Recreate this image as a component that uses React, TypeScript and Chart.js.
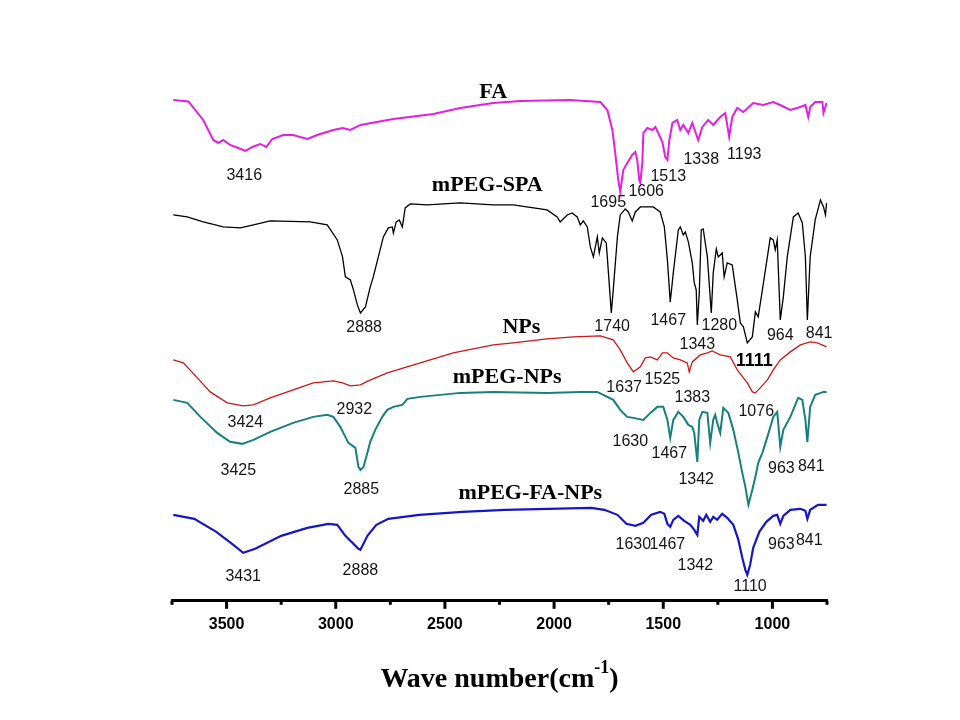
import React, { useEffect, useRef } from "react";
import { Chart, registerables } from "chart.js";

Chart.register(...registerables);

// ---------- data (wavenumber in cm-1, offset transmittance in arbitrary units) ----------
const FA_WN = [3744,3675,3607,3561,3538,3515,3484,3446,3414,3382,3346,3318,3291,3240,3195,3130,3085,3011,2969,2933,2887,2736,2553,2430,2279,2155,1926,1788,1756,1733,1720,1706,1697,1683,1665,1642,1628,1619,1610,1605,1596,1591,1573,1550,1536,1523,1504,1491,1481,1472,1458,1436,1422,1408,1385,1367,1340,1321,1294,1271,1239,1216,1198,1184,1161,1133,1088,1042,996,964,918,872,849,836,827,804,771,766,752];
const FA_T = [100.2,99.9,96.2,92.2,91.6,92.2,91.2,90.6,90.0,90.8,91.4,90.8,92.4,93.2,93.2,92.4,93.2,94.2,94.6,94.2,95.2,96.4,97.4,98.6,99.6,100,100.2,99.8,98.2,94.2,89.6,84.2,81.8,86.2,87.6,89.2,89.8,88.2,84.2,83.6,87.6,93.6,94.6,94.2,94.8,93.6,91.8,88.8,88.2,92.2,95.6,96.2,94.2,95.2,93.6,95.6,92.2,94.8,96.2,95.2,96.8,97.6,92.8,96.8,98.6,97.8,99.6,99.2,99.8,99.2,98.2,98.8,99.2,96.8,98.8,99.8,99.8,97.6,99.6];

const SPA_WN = [3744,3680,3607,3515,3437,3377,3300,3117,3039,2993,2969,2956,2933,2919,2901,2887,2864,2842,2828,2805,2782,2759,2741,2736,2723,2709,2695,2682,2659,2581,2430,2279,2187,2032,1986,1972,1940,1917,1894,1880,1866,1848,1834,1820,1802,1793,1779,1761,1751,1738,1729,1710,1697,1674,1660,1642,1628,1605,1546,1514,1495,1481,1468,1454,1431,1422,1408,1399,1385,1367,1358,1349,1344,1335,1326,1317,1298,1280,1271,1257,1248,1230,1221,1207,1184,1161,1147,1133,1115,1092,1078,1065,1046,1023,1010,996,987,978,964,950,932,904,882,863,849,840,827,804,780,766,757,752];
const SPA_T = [77.2,76.8,75.8,74.8,74.6,75.2,76.0,75.8,75.2,72.2,68.8,64.8,64.2,62.2,59.2,57.6,58.8,62.8,64.8,68.8,72.8,74.6,74.8,73.6,75.8,76.2,74.8,78.6,79.4,79.2,79.6,79.2,79.2,78.2,76.8,75.8,77.2,77.6,76.8,75.2,76.0,74.8,70.8,68.8,72.8,69.6,72.6,71.6,65.6,57.6,62.2,72.8,77.2,78.4,77.8,76.0,77.8,78.8,78.8,77.8,74.8,68.2,59.8,65.6,74.2,74.8,73.2,73.8,71.8,67.6,63.6,62.2,55.2,61.6,74.2,74.4,68.8,57.6,65.6,70.4,68.8,69.6,64.8,67.6,67.2,60.2,55.6,54.8,51.6,52.8,57.8,56.8,62.2,68.8,72.6,72.2,70.2,72.2,56.2,60.8,68.8,76.8,77.6,75.6,68.8,56.2,68.8,76.2,80.2,78.8,77.2,79.6];

const NP_WN = [3744,3698,3634,3575,3497,3424,3377,3300,3195,3103,3011,2969,2933,2887,2851,2764,2613,2462,2279,2187,2032,1912,1788,1729,1697,1665,1637,1605,1582,1559,1527,1504,1481,1454,1422,1390,1381,1367,1330,1298,1276,1239,1193,1161,1133,1115,1092,1078,1056,1023,996,964,918,872,827,794,752];
const NP_T = [48.2,47.6,44.6,41.8,39.6,39.0,39.2,40.6,42.2,43.6,44.0,43.6,43.0,43.2,44.0,45.6,47.6,49.6,51.2,51.6,52.4,52.8,53.0,52.2,50.2,47.6,45.8,46.8,48.6,48.8,48.2,49.6,49.6,48.6,48.2,47.6,45.8,47.8,49.2,49.6,50.0,49.2,48.8,46.2,44.6,43.6,41.8,41.6,42.6,44.2,46.2,48.2,49.8,51.2,51.8,51.6,50.8];

const MN_WN = [3744,3680,3620,3543,3484,3428,3377,3300,3195,3103,3039,3011,2979,2956,2942,2910,2896,2887,2873,2855,2842,2819,2787,2764,2736,2695,2672,2613,2430,2279,2032,1880,1802,1729,1697,1665,1637,1591,1559,1527,1500,1481,1468,1454,1431,1408,1385,1367,1358,1344,1335,1321,1298,1285,1271,1262,1253,1239,1225,1202,1179,1156,1138,1124,1110,1092,1078,1065,1046,1023,996,978,964,950,918,882,863,849,840,827,804,766,752];
const MN_T = [40.2,39.6,36.8,33.6,31.8,31.4,32.2,33.8,35.6,36.8,37.2,36.8,34.8,32.8,31.6,30.6,26.8,26.2,26.8,29.6,31.8,34.2,36.8,38.2,38.8,39.2,40.4,40.8,41.6,41.8,41.6,41.8,41.8,40.2,38.2,36.8,36.6,36.2,37.6,38.8,38.8,36.2,32.6,36.2,37.8,36.8,35.2,34.8,33.6,27.8,36.2,37.8,37.6,31.6,36.2,37.2,35.6,33.6,38.6,37.6,34.2,29.6,25.6,22.8,19.2,22.2,24.8,27.6,29.6,32.8,36.8,37.8,30.8,34.2,36.8,40.6,40.2,36.2,31.8,38.8,41.2,41.8,41.8];

const MF_WN = [3744,3648,3547,3469,3424,3369,3250,3130,3034,2993,2956,2896,2887,2855,2814,2759,2618,2420,2224,2027,1829,1770,1710,1669,1628,1591,1555,1514,1495,1481,1468,1454,1431,1404,1376,1358,1344,1335,1317,1303,1285,1271,1253,1230,1207,1179,1156,1138,1124,1115,1102,1088,1060,1028,996,978,964,950,918,872,849,840,827,791,752];
const MF_T = [17.2,16.4,13.8,11.2,9.6,10.4,13.0,14.6,15.4,15.2,13.0,10.4,10.2,13.0,15.2,16.4,17.2,17.8,18.2,18.4,18.6,18.2,17.2,15.4,15.0,15.6,17.2,17.8,17.4,15.4,14.8,16.2,17.0,16.0,15.2,14.2,13.2,16.8,16.0,17.2,15.8,16.8,16.2,17.4,16.6,15.2,12.2,8.6,6.2,5.2,7.2,10.6,13.8,15.8,17.0,17.2,15.4,17.0,18.2,18.4,18.0,16.4,18.2,19.2,19.2];

// peak annotations: [text, wavenumber, level]
type Lab = [string, number, number];
const FA_PEAKS: Lab[] = [["3416",3419,85.0],["1695",1752,79.6],["1606",1578,81.8],["1513",1477,84.8],["1338",1326,88.2],["1193",1129,89.2]];
const SPA_PEAKS: Lab[] = [["2888",2870,54.6],["1740",1734,54.8],["1467",1477,56.0],["1343",1344,51.2],["1280",1243,55.0],["964",964,53.0],["841",786,53.4]];
const SPA_BOLD_PEAKS: Lab[] = [["1111",1083,48.0]];
const NP_PEAKS: Lab[] = [["3424",3414,35.6],["2932",2915,38.2],["1637",1679,42.6],["1525",1504,44.2],["1383",1367,40.6],["1076",1074,37.8]];
const MN_PEAKS: Lab[] = [["3425",3446,26.0],["2885",2883,22.2],["1630",1651,31.8],["1467",1472,29.4],["1342",1349,24.2],["963",959,26.4],["841",822,26.8]];
const MF_PEAKS: Lab[] = [["3431",3424,4.8],["2888",2887,6.0],["1630",1637,11.2],["1467",1481,11.2],["1342",1353,7.0],["1110",1102,2.8],["963",959,11.2],["841",831,12.0]];
const SERIES_NAMES: Lab[] = [["FA",2279,101.8],["mPEG-SPA",2306,83.2],["NPs",2150,54.8],["mPEG-NPs",2215,44.8],["mPEG-FA-NPs",2109,21.6]];

const X_MIN = 750;
const X_MAX = 3750;
const X_STEP = 250;
const X_MAJOR = 500;
const Y_MIN = 0;
const Y_MAX = 110;

function zip(xs: number[], ys: number[]) {
  const n = Math.min(xs.length, ys.length);
  const out: { x: number; y: number }[] = [];
  for (let i = 0; i < n; i++) out.push({ x: xs[i], y: ys[i] });
  return out;
}

const overlayPlugin = {
  id: "overlay",
  afterDraw(chart: any) {
    const ctx: CanvasRenderingContext2D = chart.ctx;
    const xs = chart.scales.x;
    const ys = chart.scales.y;
    const area = chart.chartArea;
    ctx.save();
    // tick marks
    ctx.strokeStyle = "#000";
    ctx.lineWidth = 3;
    ctx.lineCap = "butt";
    for (const t of xs.ticks) {
      const px = xs.getPixelForValue(t.value);
      const major = t.value % X_MAJOR === 0;
      ctx.beginPath();
      ctx.moveTo(px, area.bottom);
      ctx.lineTo(px, area.bottom + (major ? 8 : 4));
      ctx.stroke();
    }
    // peak labels
    ctx.textAlign = "center";
    ctx.textBaseline = "middle";
    ctx.fillStyle = "#161616";
    ctx.font = '16px "Liberation Sans", Arial, sans-serif';
    const all = [FA_PEAKS, SPA_PEAKS, NP_PEAKS, MN_PEAKS, MF_PEAKS];
    for (const group of all) {
      for (const [txt, wn, lv] of group) {
        ctx.fillText(txt, xs.getPixelForValue(wn), ys.getPixelForValue(lv));
      }
    }
    ctx.font = 'bold 18px "Liberation Sans", Arial, sans-serif';
    ctx.fillStyle = "#000";
    for (const [txt, wn, lv] of SPA_BOLD_PEAKS) {
      ctx.fillText(txt, xs.getPixelForValue(wn), ys.getPixelForValue(lv));
    }
    // series names
    ctx.font = 'bold 22px "Liberation Serif", "Times New Roman", serif';
    for (const [txt, wn, lv] of SERIES_NAMES) {
      ctx.fillText(txt, xs.getPixelForValue(wn), ys.getPixelForValue(lv));
    }
    // axis title with superscript
    const a = "Wave number(cm";
    const sup = "-1";
    const b = ")";
    ctx.textAlign = "left";
    ctx.textBaseline = "alphabetic";
    ctx.font = 'bold 28px "Liberation Serif", "Times New Roman", serif';
    const wa = ctx.measureText(a).width;
    const wb = ctx.measureText(b).width;
    ctx.font = 'bold 18px "Liberation Serif", "Times New Roman", serif';
    const ws = ctx.measureText(sup).width;
    const total = wa + ws + wb;
    const cx = (area.left + area.right) / 2;
    const x0 = cx - total / 2;
    const base = area.bottom + 86;
    ctx.font = 'bold 28px "Liberation Serif", "Times New Roman", serif';
    ctx.fillText(a, x0, base);
    ctx.font = 'bold 18px "Liberation Serif", "Times New Roman", serif';
    ctx.fillText(sup, x0 + wa, base - 14);
    ctx.font = 'bold 28px "Liberation Serif", "Times New Roman", serif';
    ctx.fillText(b, x0 + wa + ws, base);
    ctx.restore();
  },
};

export default function App() {
  const ref = useRef<HTMLCanvasElement>(null);
  useEffect(() => {
    if (!ref.current) return;
    const line = (label: string, wn: number[], t: number[], color: string, width: number) => ({
      label,
      data: zip(wn, t),
      borderColor: color,
      backgroundColor: color,
      borderWidth: width,
      pointRadius: 0,
      tension: 0,
      fill: false,
    });
    const chart = new Chart(ref.current, {
      type: "line",
      data: {
        datasets: [
          line("FA", FA_WN, FA_T, "#E21FE2", 2),
          line("mPEG-SPA", SPA_WN, SPA_T, "#000000", 1.3),
          line("NPs", NP_WN, NP_T, "#CC1818", 1.3),
          line("mPEG-NPs", MN_WN, MN_T, "#16807E", 2),
          line("mPEG-FA-NPs", MF_WN, MF_T, "#1616C8", 2.2),
        ],
      },
      options: {
        animation: false,
        responsive: false,
        devicePixelRatio: 1,
        layout: { padding: { left: 172, right: 133, top: 51, bottom: 72 } },
        plugins: { legend: { display: false }, tooltip: { enabled: false } },
        scales: {
          x: {
            type: "linear",
            reverse: true,
            min: X_MIN,
            max: X_MAX,
            position: "bottom",
            border: { display: true, width: 3, color: "#000" },
            grid: { display: false, drawTicks: false },
            ticks: {
              stepSize: X_STEP,
              autoSkip: false,
              maxRotation: 0,
              padding: 14,
              color: "#000",
              font: { family: '"Liberation Sans", Arial, sans-serif', size: 16, weight: "bold" },
              callback: (v: any) => (Number(v) % X_MAJOR === 0 ? String(v) : ""),
            },
          },
          y: { display: false, min: Y_MIN, max: Y_MAX },
        },
      },
      plugins: [overlayPlugin],
    } as any);
    return () => chart.destroy();
  }, []);
  return (
    <div style={{ position: "absolute", left: 0, top: 0, width: 960, height: 720, background: "#fff" }}>
      <canvas ref={ref} width={960} height={720} style={{ display: "block" }} />
    </div>
  );
}
